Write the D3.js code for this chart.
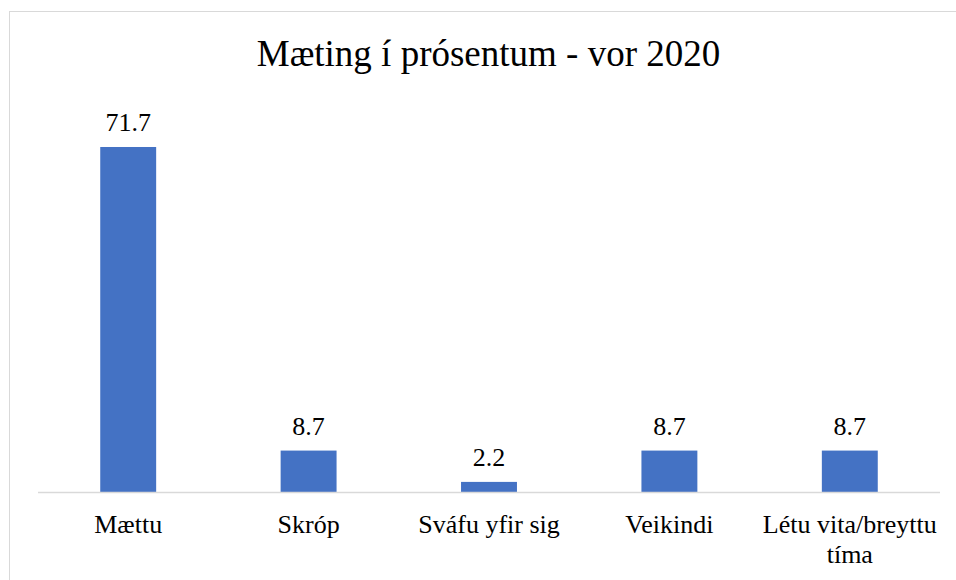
<!DOCTYPE html>
<html>
<head>
<meta charset="utf-8">
<script src="https://cdn.jsdelivr.net/npm/d3@7"></script>
<style>
  body { margin: 0; background: #fff; }
</style>
</head>
<body>
<div class="chart"></div>
<script>
'use strict';

var categories = ["Mættu", "Skróp", "Sváfu yfir sig", "Veikindi", "Létu vita/breyttu tíma"];
var values = [71.7, 8.7, 2.2, 8.7, 8.7];
var valueLabels = ["71.7", "8.7", "2.2", "8.7", "8.7"];
var title = "Mæting í prósentum - vor 2020";

var width = 956, height = 580;
var plot = {left: 38, right: 940, top: 107, bottom: 492.5};
var serif = "Liberation Serif, Tinos, Times New Roman, DejaVu Serif, serif";

var svg = d3.select(".chart")
            .append("svg")
            .attr("width", width)
            .attr("height", height)
            .attr("font-family", serif);

// chart border (runs off the right/bottom edge like the original)
svg.append("rect")
   .attr("x", 9.5).attr("y", 11.5)
   .attr("width", 1000).attr("height", 1000)
   .attr("fill", "none")
   .attr("stroke", "#d9d9d9")
   .attr("stroke-width", 1);

svg.append("text")
   .attr("x", 488.5)
   .attr("y", 66)
   .attr("text-anchor", "middle")
   .attr("font-family", serif)
   .attr("font-size", 37)
   .text(title);

var x = d3.scaleBand()
          .domain(categories)
          .range([plot.left, plot.right])
          .paddingInner(0.69)
          .paddingOuter(0.345);

var y = d3.scaleLinear()
          .domain([0, 80])
          .range([plot.bottom, plot.top]);

// bars
svg.selectAll("rect.bar")
   .data(values)
   .enter().append("rect")
   .attr("class", "bar")
   .attr("x", function(d, i){ return x(categories[i]); })
   .attr("y", function(d){ return y(d); })
   .attr("width", x.bandwidth())
   .attr("height", function(d){ return y(0) - y(d); })
   .attr("fill", "#4472c4");

// value labels
svg.selectAll("text.val")
   .data(values)
   .enter().append("text")
   .attr("class", "val")
   .attr("x", function(d, i){ return x(categories[i]) + x.bandwidth() / 2; })
   .attr("y", function(d){ return y(d) - 16; })
   .attr("text-anchor", "middle")
   .attr("font-family", serif)
   .attr("font-size", 26)
   .text(function(d, i){ return valueLabels[i]; });

// x axis
var xAxis = d3.axisBottom(x).tickSize(0).tickPadding(0);
var gx = svg.append("g")
            .attr("transform", "translate(0," + plot.bottom + ")")
            .call(xAxis);
gx.attr("font-family", serif).attr("font-size", 26);
gx.select(".domain").attr("stroke", "#d9d9d9").attr("stroke-width", 1.5)
  .attr("d", "M" + plot.left + ",0H" + plot.right);
gx.selectAll(".tick text").remove();

// category labels, wrapped to the band step
var step = x.step();
gx.selectAll(".tick").each(function(d){
  var t = d3.select(this).append("text")
            .attr("text-anchor", "middle")
            .attr("fill", "#000")
            .attr("font-family", serif)
            .attr("font-size", 26);
  var words = d.split(" "), line = [], lineNo = 0;
  var tspan = t.append("tspan").attr("x", 0).attr("y", 40.5);
  words.forEach(function(w){
    line.push(w);
    tspan.text(line.join(" "));
    if (tspan.node().getComputedTextLength() > step - 2 && line.length > 1) {
      line.pop();
      tspan.text(line.join(" "));
      line = [w];
      lineNo++;
      tspan = t.append("tspan").attr("x", 0).attr("y", 40.5 + lineNo * 30).text(w);
    }
  });
});
</script>
</body>
</html>
